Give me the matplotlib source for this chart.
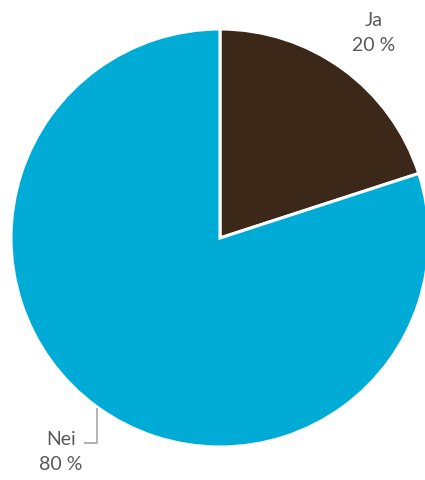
import matplotlib.pyplot as plt

# survey answers
labels = ["Ja", "Nei"]
shares = [20, 80]
colors = ["#3c2819", "#00acd6"]

plt.rcParams['font.family'] = ['Lato', 'DejaVu Sans']

fig = plt.figure(figsize=(4.25, 4.8), dpi=100)
ax = fig.add_axes([0, 0, 1, 1])
ax.axis("off")

wedges, _ = ax.pie(shares, colors=colors, startangle=90, counterclock=False,
                   center=(220, 242), radius=209,
                   wedgeprops=dict(edgecolor="white", linewidth=2.2))
ax.set_xlim(0, 425)
ax.set_ylim(0, 480)
ax.set_aspect("equal")

txt = "#595959"
ax.text(374, 447, "{}\n{} %".format(labels[0], shares[0]), ha="center", va="center",
        fontsize=14, color=txt, linespacing=1.6)
ax.text(61, 28, "{}\n{} %".format(labels[1], shares[1]), ha="center", va="center",
        fontsize=14, color=txt, linespacing=1.6)

# leader line for the "Nei" label
ax.plot([84, 97, 97], [37, 37, 72], color="#a6a6a6", lw=1.2, solid_capstyle="butt")

fig.savefig("out.png", dpi=100)
